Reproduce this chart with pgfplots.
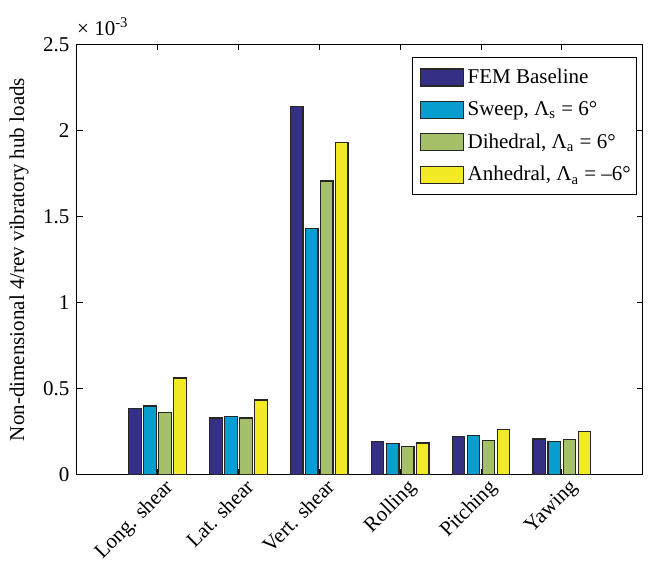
\documentclass[border=0pt]{standalone}
\usepackage{fontspec}
\setmainfont{Liberation Serif}
\usepackage{pgfplots}
\pgfplotsset{compat=1.18}

\definecolor{femblue}{RGB}{53,47,134}
\definecolor{sweepblue}{RGB}{8,158,207}
\definecolor{dihgreen}{RGB}{166,191,105}
\definecolor{anhyellow}{RGB}{242,234,36}

\pgfplotsset{
  hubbar/.style={fill=#1, draw=black!85, line width=0.6pt,
    legend image code/.code={\path (0pt,0pt); \draw[##1] (2.3pt,-4.25pt) rectangle (23.6pt,4.25pt);}},
}

\begin{document}
\fontsize{10.5}{12.6}\selectfont
\begin{tikzpicture}
\begin{axis}[
  name=ax,
  scale only axis, width=282.7pt, height=215pt,
  xmin=0, xmax=7, ymin=0, ymax=0.0025,
  ybar=1.25pt, bar width=6.25pt,
  tick align=inside, major tick length=3pt,
  axis line style={line width=0.5pt},
  every tick/.style={black, line width=0.5pt},
  xtick={1,2,3,4,5,6},
  xticklabels={Long. shear, Lat. shear, Vert. shear, Rolling, Pitching, Yawing},
  xticklabel style={xshift=3pt, rotate=45, anchor=north east, inner sep=1pt},
  ytick={0,0.0005,0.001,0.0015,0.002,0.0025},
  scaled y ticks=base 10:3,
  ytick scale label code/.code={× 10\textsuperscript{-3}},
  every y tick scale label/.style={at={(rel axis cs:0,1)}, anchor=south west, inner sep=1pt, yshift=3pt, xshift=-1pt},
  /pgf/number format/assume math mode=true,
  ylabel={Non-dimensional 4/rev vibratory hub loads},
  legend cell align=left,
  legend style={at={(rel axis cs:1,1)}, anchor=north east, xshift=-2.65pt, yshift=-6.35pt,
    draw=black, line width=0.5pt, fill=white, row sep=4.5pt, column sep=0.4pt,
    inner xsep=1.5pt, inner ysep=4pt, nodes={inner sep=1.5pt}},
]
\addplot[hubbar=femblue] coordinates {(1,0.000385) (2,0.000329) (3,0.002140) (4,0.000194) (5,0.000223) (6,0.000207)};
\addplot[hubbar=sweepblue] coordinates {(1,0.000399) (2,0.000337) (3,0.001432) (4,0.000180) (5,0.000228) (6,0.000194)};
\addplot[hubbar=dihgreen] coordinates {(1,0.000362) (2,0.000329) (3,0.001706) (4,0.000165) (5,0.000199) (6,0.000203)};
\addplot[hubbar=anhyellow] coordinates {(1,0.000562) (2,0.000434) (3,0.001930) (4,0.000184) (5,0.000262) (6,0.000250)};
\legend{FEM Baseline, {Sweep, Λ\textsubscript{s} = 6°}, {Dihedral, Λ\textsubscript{a} = 6°}, {Anhedral, Λ\textsubscript{a} = –6°}}
\end{axis}
\pgfresetboundingbox
\path[use as bounding box] ([xshift=-38.35pt,yshift=-44.35pt]ax.south west) rectangle ([xshift=2.65pt,yshift=22.15pt]ax.north east);
\end{tikzpicture}
\end{document}
